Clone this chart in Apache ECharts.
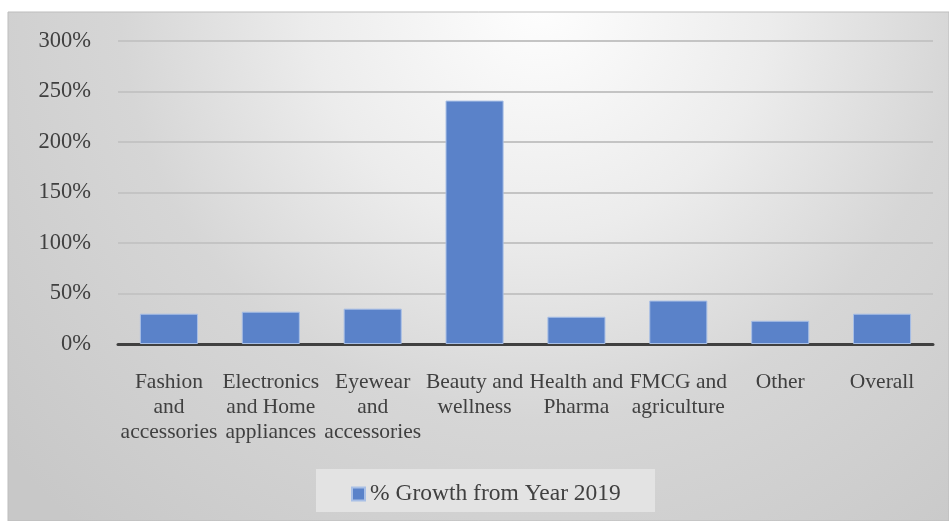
<!DOCTYPE html>
<html><head><meta charset="utf-8">
<script src="https://cdn.jsdelivr.net/npm/echarts@6/dist/echarts.min.js"></script>
<style>html,body{margin:0;padding:0;background:#fff}#c{width:949px;height:521px}</style>
</head><body><div id="c"></div>
<script>
const categories = ["Fashion\nand\naccessories","Electronics\nand Home\nappliances","Eyewear\nand\naccessories","Beauty and\nwellness","Health and\nPharma","FMCG and\nagriculture","Other","Overall"];
const growth = [30, 32, 35, 241, 27, 43, 23, 30];
const seriesName = "% Growth from Year 2019";
const chart = echarts.init(document.getElementById('c'));
const font = "'Liberation Serif','Times New Roman',serif";
chart.setOption({
  animation:false,
  graphic:[
    {type:'rect',z:-10,shape:{x:8,y:12,width:941,height:509},
     style:{fill:{type:'radial',global:true,x:540,y:0,r:700,colorStops:[{offset:0,color:'#fefefe'},{offset:0.33,color:'#ececec'},{offset:0.6,color:'#d6d6d6'},{offset:1,color:'#c8c8c8'}]},stroke:'#bdbdbd',lineWidth:1}},
    {type:'rect',z:-5,shape:{x:316,y:469,width:339,height:43},style:{fill:'#e3e3e3'}}
  ],
  grid:{left:118,right:16,top:41,bottom:177},
  legend:{left:346,top:477,icon:'rect',itemWidth:13,itemHeight:13,itemGap:5,
    textStyle:{fontFamily:font,fontSize:23.5,color:'#404040'},data:[seriesName]},
  xAxis:{type:'category',data:categories,
    axisLine:{lineStyle:{color:'#404040',width:3}},axisTick:{show:false},
    axisLabel:{interval:0,margin:26,fontFamily:font,fontSize:21.5,color:'#404040',lineHeight:25}},
  yAxis:{type:'value',min:0,max:300,interval:50,
    axisLabel:{formatter:'{value}%',margin:27,fontFamily:font,fontSize:22.5,color:'#404040'},
    axisLine:{show:false},axisTick:{show:false},
    splitLine:{lineStyle:{color:'#c4c4c4',width:2}}},
  series:[{name:seriesName,type:'bar',data:growth,barCategoryGap:'43%',
    itemStyle:{color:'#5a82c9',borderColor:'#a8bfe6',borderWidth:1}}]
});
</script></body></html>
